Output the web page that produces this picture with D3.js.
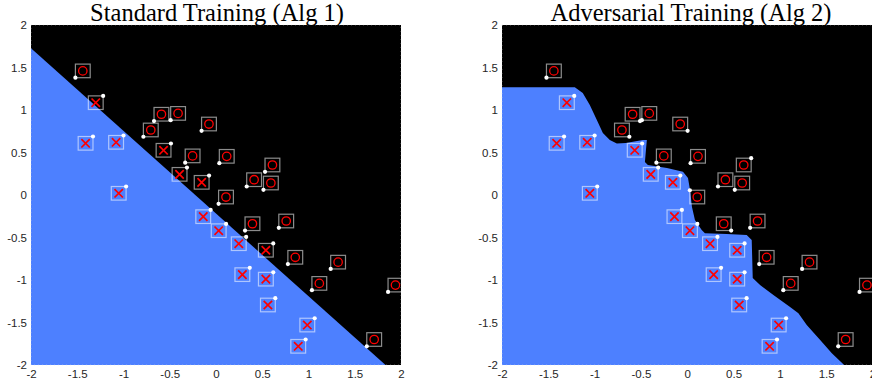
<!DOCTYPE html>
<html>
<head>
<meta charset="utf-8">
<script src="https://cdn.jsdelivr.net/npm/d3@7"></script>
<style>
  html, body { margin: 0; padding: 0; background: #fff; }
  svg { display: block; }
</style>
</head>
<body>
<svg id="chart" width="872" height="385"></svg>
<script>
// --- data ---
const ticks = [-2, -1.5, -1, -0.5, 0, 0.5, 1, 1.5, 2];
const tickLabels = ['-2', '-1.5', '-1', '-0.5', '0', '0.5', '1', '1.5', '2'];
const titles = ['Standard Training (Alg 1)', 'Adversarial Training (Alg 2)'];
const epsilon = 0.08;

// class "o" points (black side)
const pointsO = [
  [-1.44, 1.46], [-0.59, 0.95], [-0.41, 0.96], [-0.076, 0.835], [-0.705, 0.765],
  [-0.253, 0.46], [0.116, 0.455], [0.61, 0.353], [0.412, 0.18], [0.593, 0.141],
  [0.108, -0.024], [0.394, -0.338], [0.759, -0.306], [0.857, -0.733], [1.32, -0.79],
  [1.117, -1.04], [1.94, -1.06], [1.71, -1.70]
];
// class "x" points (blue side)
const pointsX = [
  [-1.30, 1.086], [-1.41, 0.608], [-1.08, 0.62], [-0.567, 0.526], [-0.394, 0.243],
  [-0.155, 0.149], [-1.052, 0.02], [-0.138, -0.255], [0.029, -0.42], [0.246, -0.573],
  [0.539, -0.65], [0.285, -0.937], [0.539, -0.99], [0.561, -1.294], [0.987, -1.53],
  [0.889, -1.78]
];

// corner of the eps-box where the perturbed point sits, [sx, sy]
const cornersOStandard = pointsO.map(() => [-1, -1]);
const cornersOAdversarial = [
  [-1, -1], [1, -1], [-1, -1], [1, -1], [1, -1],
  [-1, -1], [-1, -1], [1, 1], [-1, -1], [-1, -1],
  [-1, 1], [1, -1], [-1, -1], [-1, -1], [-1, -1],
  [-1, -1], [-1, -1], [-1, -1]
];
const cornersX = pointsX.map(() => [1, 1]);

// blue decision regions (polygons in data space)
const blueRegionStandard = [[-2, 1.726], [1.833, -2], [-2, -2]];
const blueRegionAdversarial = [
  [-2, 1.267], [-1.214, 1.267], [-1.128, 1.2], [-1.052, 1.059], [-0.976, 0.882],
  [-0.911, 0.729], [-0.836, 0.647], [-0.76, 0.606], [-0.663, 0.612], [-0.479, 0.647],
  [-0.436, 0.647], [-0.446, 0.529], [-0.457, 0.388], [-0.425, 0.353], [-0.219, 0.318],
  [-0.046, 0.274], [0.008, 0.2], [0.03, 0.059], [0.051, -0.141], [0.083, -0.294],
  [0.156, -0.412], [0.191, -0.451], [0.426, -0.459], [0.642, -0.471], [0.696, -0.529],
  [0.707, -0.976], [0.786, -1.059], [0.93, -1.176], [1.11, -1.318], [1.2, -1.392],
  [1.29, -1.529], [1.435, -1.706], [1.561, -1.862], [1.694, -2], [-2, -2]
];

// --- layout ---
const BLUE = '#4d80ff';
const panels = [
  { title: titles[0], xRange: [31, 401], titleX: 217, region: blueRegionStandard, cornersO: cornersOStandard },
  { title: titles[1], xRange: [502, 872.5], titleX: 691, region: blueRegionAdversarial, cornersO: cornersOAdversarial }
];
const yRange = [365, 25];

const svg = d3.select('#chart');

panels.forEach(p => {
  const x = d3.scaleLinear().domain([-2, 2]).range(p.xRange);
  const y = d3.scaleLinear().domain([-2, 2]).range(yRange);
  const g = svg.append('g');

  // background (black class region)
  g.append('rect')
    .attr('x', x(-2)).attr('y', y(2))
    .attr('width', x(2) - x(-2)).attr('height', y(-2) - y(2))
    .attr('fill', '#000');

  // blue class region
  const line = d3.line().x(d => x(d[0])).y(d => y(d[1]));
  g.append('path')
    .attr('d', line(p.region) + 'Z')
    .attr('fill', BLUE);

  // faint frame, like the matlab box
  g.append('rect')
    .attr('x', x(-2)).attr('y', y(2))
    .attr('width', x(2) - x(-2)).attr('height', y(-2) - y(2))
    .attr('fill', 'none').attr('stroke', '#ddd').attr('stroke-width', 0.6)
    .attr('stroke-dasharray', '1,3').attr('opacity', 0.7);

  // axes
  const xAxis = d3.axisBottom(x).tickValues(ticks)
    .tickFormat((d, i) => tickLabels[i]).tickSize(0).tickPadding(5);
  const yAxis = d3.axisLeft(y).tickValues(ticks)
    .tickFormat((d, i) => tickLabels[i]).tickSize(0).tickPadding(4);

  const gx = g.append('g').attr('transform', `translate(0,${y(-2)})`).call(xAxis);
  const gy = g.append('g').attr('transform', `translate(${x(-2)},0)`).call(yAxis);
  [gx, gy].forEach(a => {
    a.select('.domain').remove();
    a.selectAll('text')
      .style('font-family', '"Liberation Sans", Arial, sans-serif')
      .style('font-size', '11.5px')
      .attr('fill', '#262626');
  });

  // title
  g.append('text')
    .attr('x', p.titleX)
    .attr('y', 21)
    .attr('text-anchor', 'middle')
    .style('font-family', '"Liberation Serif", "Times New Roman", serif')
    .style('font-size', '24.5px')
    .attr('fill', '#000')
    .text(p.title);

  const bw = x(epsilon) - x(0);
  const bh = y(0) - y(epsilon);

  // eps boxes
  const drawBoxes = (pts) => {
    g.selectAll(null).data(pts).enter().append('rect')
      .attr('x', d => x(d[0] - epsilon)).attr('y', d => y(d[1] + epsilon))
      .attr('width', 2 * bw).attr('height', 2 * bh)
      .attr('fill', 'none').attr('stroke', '#fff')
      .attr('stroke-opacity', 0.55).attr('stroke-width', 1.2);
  };
  drawBoxes(pointsO);
  drawBoxes(pointsX);

  // red markers
  g.selectAll(null).data(pointsO).enter().append('circle')
    .attr('cx', d => x(d[0])).attr('cy', d => y(d[1]))
    .attr('r', 4.2).attr('fill', 'none')
    .attr('stroke', '#ff0000').attr('stroke-width', 1.3);

  const xs = 4.2;
  g.selectAll(null).data(pointsX).enter().append('path')
    .attr('d', d => {
      const cx = x(d[0]), cy = y(d[1]);
      return `M${cx - xs},${cy - xs}L${cx + xs},${cy + xs}M${cx - xs},${cy + xs}L${cx + xs},${cy - xs}`;
    })
    .attr('stroke', '#ff0000').attr('stroke-width', 1.7).attr('fill', 'none');

  // perturbed points (white dots at box corners)
  const drawDots = (pts, corners) => {
    g.selectAll(null).data(pts).enter().append('circle')
      .attr('cx', (d, i) => x(d[0] + corners[i][0] * epsilon))
      .attr('cy', (d, i) => y(d[1] + corners[i][1] * epsilon))
      .attr('r', 2.1).attr('fill', '#fff');
  };
  drawDots(pointsO, p.cornersO);
  drawDots(pointsX, cornersX);
});
</script>
</body>
</html>
